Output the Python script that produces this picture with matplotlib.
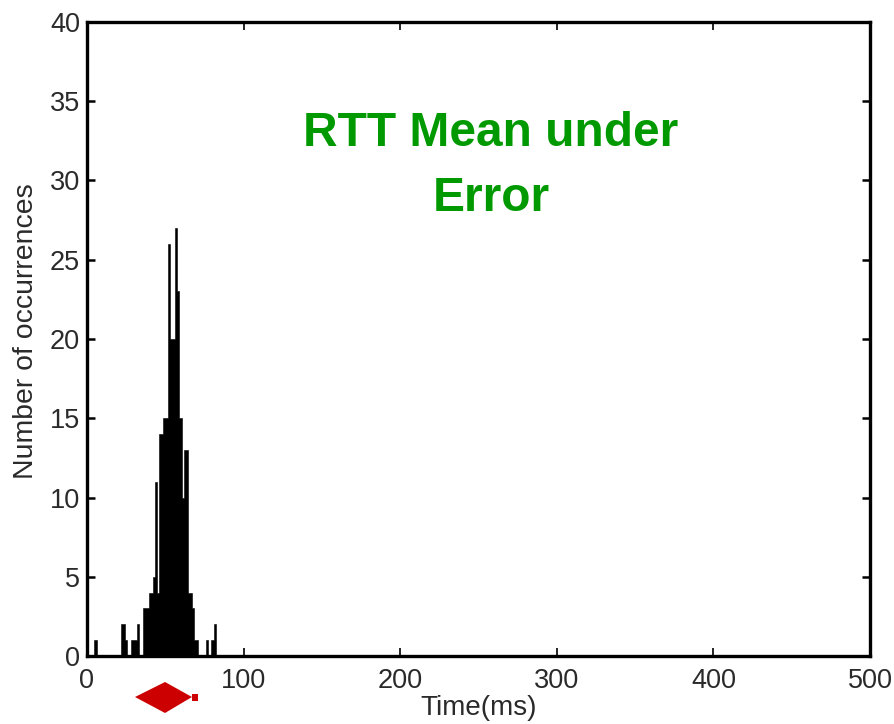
import matplotlib
matplotlib.use("Agg")
import matplotlib.pyplot as plt
from matplotlib.patches import Polygon, Rectangle
from matplotlib.transforms import Affine2D

plt.rcParams['font.family'] = ['Liberation Sans', 'DejaVu Sans']

bin_edges = [4.2, 6.2, 22.0, 24.0, 25.7, 28.0, 31.7, 33.2, 35.5, 39.6, 42.0, 43.2, 44.7, 46.0, 48.3,
             52.0, 53.2, 56.0, 57.2, 58.5, 60.8, 62.0, 64.5, 66.8, 68.3, 71.0, 76.0, 77.3, 79.0, 81.3, 82.5]
counts = [1, 0, 2, 1, 0, 1, 2, 0, 3, 4, 5, 11, 4, 14, 15,
          26, 20, 27, 23, 15, 10, 13, 4, 3, 1, 0, 1, 0, 1, 2]
x_ticks = [0, 100, 200, 300, 400, 500]
y_ticks = [0, 5, 10, 15, 20, 25, 30, 35, 40]
x_label = "Time(ms)"
y_label = "Number of occurrences"
title_text = "RTT Mean under\nError"

W, H = 894, 724
fig = plt.figure(figsize=(W/100, H/100), dpi=100, facecolor='white')
ax = fig.add_axes([87/W, 1-656/H, (870-87)/W, (656-22)/H])
ax.stairs(counts, bin_edges, fill=True, facecolor='black', edgecolor='black', linewidth=0.4)
ax.set_xlim(0, 500)
ax.set_ylim(0, 40)
ax.set_xticks(x_ticks)
ax.set_yticks(y_ticks)
ax.tick_params(axis='y', direction='in', length=6, width=1.8, left=True, right=True, labelsize=19.5, pad=5, labelcolor='#2a2a2a')
ax.tick_params(axis='x', direction='in', length=6, width=1.2, top=True, bottom=True, labelsize=19.5, pad=9, labelcolor='#2a2a2a')
for s in ax.spines.values():
    s.set_linewidth(2.4)
    s.set_color('black')
fig.text(479/W, 1-708/H, x_label, fontsize=20, ha='center', va='center', color='#2a2a2a')
fig.text(26/W, 1-331/H, y_label, fontsize=20.4, rotation=90, ha='center', va='center', color='#2a2a2a')
fig.text(491/W, 1-166/H, title_text, fontsize=34.5, fontweight='bold', color='#009900', ha='center', va='center', linespacing=1.55)

px = Affine2D().scale(1, -1).translate(0, H)
fig.add_artist(Polygon([(135, 697), (165, 682), (192, 697), (165, 713)], closed=True, fc='#cc0000', ec='none', transform=px))
fig.add_artist(Rectangle((192, 694), 6, 7, fc='#cc0000', ec='none', transform=px))
fig.savefig('out.png', dpi=100)
